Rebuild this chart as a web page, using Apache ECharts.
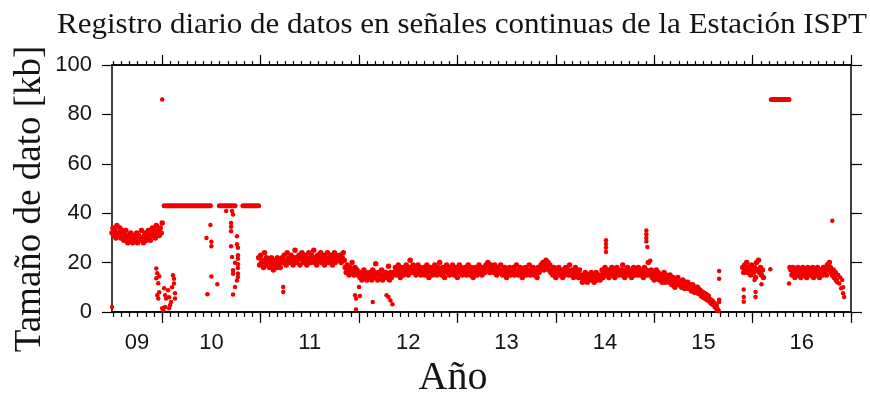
<!DOCTYPE html>
<html>
<head>
<meta charset="utf-8">
<script src="https://cdn.jsdelivr.net/npm/echarts@6/dist/echarts.min.js"></script>
<style>
  html, body { margin: 0; padding: 0; background: #fff; }
  #chart { width: 870px; height: 396px; }
</style>
</head>
<body>
<div id="chart"></div>
<script>
// Daily file size (kb) of the continuous signals recorded at station ISPT.
// Time is in fractional years; each band holds one value every STEP years.
const X_MIN = 2009.49;
const X_MAX = 2017;
const STEP = 0.01;

const yearLabels = ['09', '10', '11', '12', '13', '14', '15', '16'];
const labelYears = [2009, 2010, 2011, 2012, 2013, 2014, 2015, 2016];
const yTicks = [0, 20, 40, 60, 80, 100];

// Mid 2009 – end 2009
const band2009Start = 2009.49;
const band2009 = [32,34,31,33,30,35,32,31,34,30,33,32,29,31,33,30,28,31,29,32,30,28,31,29,30,32,28,31,30,29,33,30,28,31,32,29,30,33,31,29,32,34,31,33,30,35,32,33,31,34,32,36];

// 2011
const band2011Start = 2010.98;
const band2011 = [
  22,19,23,20,21,18,24,20,22,19,
  21,18,20,22,19,17,21,20,18,22,19,21,18,20,
  22,20,23,21,19,24,21,22,20,23,21,19,22,25,20,22,21,23,19,22,
  24,21,20,23,22,19,21,24,22,20,23,21,25,20,22,19,23,21,22,24,
  20,21,23,19,22,21,24,20,22,23,21,19,22,24,20,23,21,22,
  21,23,20,22,24,21
];

// Late 2011 – mid 2015 (ends with the slow decay towards zero)
const band2012Start = 2011.86;
const band2012 = [
  18,16,19,17,15,18,16,20,17,15,18,16,17,15,
  15,14,16,13,15,17,14,16,13,15,14,16,15,13,17,14,16,19.5,15,13,16,14,15,17,13,15,14,16,14,15,18.5,13,16,14,15,16,
  16,18,15,17,19,16,14,18,17,15,
  18,16,19,17,15,18,21,16,17,19,
  16,18,15,17,19,16,18,15,17,16,
  18,15,17,19,16,14,17,18,16,15,
  17,19,16,15,18,16,20,17,15,18,
  16,14,17,19,16,18,15,17,16,19,
  17,15,18,16,14,17,19,16,18,15,
  17,16,18,15,17,19,16,15,18,16,
  14,17,18,16,15,17,19,16,18,15,
  17,18,16,19,17,20,18,16,19,17,
  18,16,19,17,15,18,16,17,19,16,
  15,17,18,16,14,17,16,18,15,17,
  16,18,15,17,19,16,15,17,18,16,
  14,17,16,18,15,17,16,19,15,17,
  16,18,15,17,16,14,18,16,17,19,
  18,20,17,19,21,18,20,17,19,16,
  17,15,18,16,14,17,16,18,15,17,16,14,17,15,18,16,17,15,19,16,15,17,14,16,18,15,16,14,17,15,
  14,12,15,13,16,14,12,15,13,14,16,13,15,12,14,16,13,15,14,13,
  15,17,14,16,18,15,17,16,14,17,16,18,15,17,14,16,18,15,17,16,15,17,19,16,14,17,16,18,15,17,
  16,14,17,18,15,16,17,15,18,16,15,17,16,14,18,16,17,15,20,16,15,
  17,14,16,13,15,17,14,16,13,15,
  15,12,14,16,12,15,13,14,12,15,
  13,11,14,12,10,13,12,14,11,12,
  12,10,13,11,9.5,12,10,12,9.5,11,
  10.5,8.5,11,9,8,10,8.5,10,7.5,9,
  8.5,6.5,8,6,7.5,5.5,7,5,6.5,4.5,
  5,3.5,4.5,3,3.5,2,2.5,1,0.5
];

// Early 2016 burst
const band2016aStart = 2015.90;
const band2016a = [18,16,19,17,20,16,18,17,15,19,17,16,18,14,20,17,21,16,18,15,17,14];

// Second half of 2016
const band2016bStart = 2016.38;
const band2016b = [
  18,17,15,18,16,14,17,16,18,15,17,14,16,18,15,17,16,14,18,16,
  15,17,16,18,14,16,17,15,18,16,14,17,16,15,18,16,17,15,19,17,
  20,18,16,15,17,14,16,13
];

// Isolated days [year, kb]
const scattered = [
  [2009.49, 2], [2010.0, 86],
  [2009.94, 17.6], [2009.95, 15.7], [2009.94, 13.7], [2009.96, 11.6], [2009.95, 6.8], [2009.96, 5.5], [2009.97, 14.5], [2009.97, 8],
  [2010.0, 1.5], [2010.01, 0.7], [2010.02, 9.6], [2010.03, 6.8], [2010.04, 5.5], [2010.03, 2],
  [2010.06, 8.8], [2010.07, 6], [2010.08, 2.7], [2010.07, 1.5], [2010.09, 4],
  [2010.11, 14.9], [2010.12, 13.5], [2010.12, 11.5], [2010.13, 7.6], [2010.13, 5.5], [2010.1, 10],
  [2010.45, 30], [2010.46, 7.2], [2010.49, 35.2], [2010.5, 28.4], [2010.5, 26.6], [2010.5, 14.4], [2010.56, 11.2],
  [2010.65, 40.9], [2010.71, 40.9], [2010.72, 39.5], [2010.70, 36], [2010.70, 34.5], [2010.70, 32.7], [2010.70, 26.6],
  [2010.71, 22.3], [2010.72, 16.9], [2010.72, 15.5], [2010.72, 7.1], [2010.74, 19.9], [2010.74, 10.1],
  [2010.76, 30.7], [2010.76, 27.4], [2010.77, 26], [2010.77, 23], [2010.77, 21.6], [2010.77, 19.3], [2010.77, 17.8],
  [2010.77, 15.6], [2010.77, 14.2], [2010.76, 12.8],
  [2011.23, 10.1], [2011.23, 8.1],
  [2011.96, 6.8], [2011.97, 5.5], [2011.97, 1], [2012.0, 10.1], [2012.01, 6.5], [2012.14, 4],
  [2012.28, 6.8], [2012.3, 6.1], [2012.32, 4.7], [2012.34, 3.1],
  [2014.51, 29], [2014.51, 27.5], [2014.51, 26], [2014.51, 24.3],
  [2014.92, 33], [2014.92, 31.5], [2014.92, 30], [2014.92, 28.5], [2014.93, 26.3], [2014.96, 20.7],
  [2015.66, 16.6], [2015.66, 13.5], [2015.66, 5], [2015.66, 4],
  [2015.91, 9.1], [2015.91, 6.1], [2015.91, 4.1],
  [2016.02, 13], [2016.03, 8.1], [2016.03, 6.1], [2016.09, 11.2], [2016.18, 17.3],
  [2016.37, 11.5], [2016.81, 36.9],
  [2016.86, 12], [2016.87, 15], [2016.88, 11.5], [2016.89, 14], [2016.9, 9.6],
  [2016.91, 13], [2016.92, 7.6], [2016.93, 6.1], [2016.92, 10]
];

// Stretches where every day has the same size: [from, to, kb]
const plateaus = [
  [2010.02, 2010.49, 43],
  [2010.58, 2010.74, 43],
  [2010.82, 2010.98, 43],
  [2016.19, 2016.37, 86]
];

const RED = '#f20000';
const INK = '#141414';

function bandPoints(start, values) {
  return values.map((v, i) => [+(start + i * STEP).toFixed(3), v]);
}

const bands = [].concat(
  bandPoints(band2009Start, band2009),
  bandPoints(band2011Start, band2011),
  bandPoints(band2012Start, band2012),
  bandPoints(band2016aStart, band2016a),
  bandPoints(band2016bStart, band2016b)
);

// Year boundaries carry long ticks, months short ones.
const yearTicks = [];
for (let y = 2010; y <= 2017; y++) yearTicks.push(y);
const monthTicks = [];
for (let m = 0; 2009.5 + m / 12 <= X_MAX + 1e-9; m++) monthTicks.push(2009.5 + m / 12);
// Year annotations sit in the middle of each (visible) year.
const labelPos = labelYears.map(y => (Math.max(y, X_MIN) + y + 1) / 2);

const frameLine = { show: true, onZero: false, lineStyle: { color: '#000', width: 1.5 } };

function xAxisDef(position, ticks, len, withLabels) {
  return {
    type: 'value', position: position, min: X_MIN, max: X_MAX,
    axisLine: frameLine,
    splitLine: { show: false },
    axisTick: { show: true, customValues: ticks, length: len, lineStyle: { color: '#000', width: 1.2 } },
    axisLabel: withLabels ? {
      show: true, customValues: labelPos, margin: 20,
      fontFamily: 'Liberation Sans', fontSize: 22, color: INK,
      formatter: v => yearLabels[labelYears.indexOf(Math.floor(v))]
    } : { show: false }
  };
}

const chart = echarts.init(document.getElementById('chart'));
chart.setOption({
  animation: false,
  backgroundColor: '#fff',
  grid: { left: 112, right: 19, top: 65, bottom: 84, containLabel: false, outerBoundsMode: 'none' },
  xAxis: [
    xAxisDef('bottom', yearTicks, 11, true),
    xAxisDef('bottom', monthTicks, 5, false),
    xAxisDef('top', yearTicks, 10, false),
    xAxisDef('top', monthTicks, 4, false)
  ],
  yAxis: [
    {
      type: 'value', position: 'left', min: 0, max: 100, interval: 20,
      axisLine: frameLine, splitLine: { show: false },
      axisTick: { show: true, length: 10, lineStyle: { color: '#000', width: 1.2 } },
      axisLabel: {
        margin: 20, fontFamily: 'Liberation Sans', fontSize: 22, color: INK,
        formatter: v => (yTicks.indexOf(v) >= 0 ? String(v) : '')
      }
    },
    {
      type: 'value', position: 'right', min: 0, max: 100, interval: 20,
      axisLine: frameLine, splitLine: { show: false },
      axisTick: { show: true, length: 11, lineStyle: { color: '#000', width: 1.2 } },
      axisLabel: { show: false }
    }
  ],
  graphic: [
    {
      type: 'text', x: 57, y: 25, scaleX: 1.07,
      style: { text: 'Registro diario de datos en señales continuas de la Estación ISPT', font: '29px "Liberation Serif"', fill: INK, align: 'left', verticalAlign: 'middle' }
    },
    {
      type: 'text', x: 30, y: 199, rotation: Math.PI / 2,
      style: { text: 'Tamaño de dato [kb]', font: '37px "Liberation Serif"', fill: INK, align: 'center', verticalAlign: 'middle' }
    },
    {
      type: 'text', x: 453, y: 378,
      style: { text: 'Año', font: '40px "Liberation Serif"', fill: INK, align: 'center', verticalAlign: 'middle' }
    }
  ],
  series: [
    {
      type: 'scatter', xAxisIndex: 0, yAxisIndex: 0,
      data: bands, symbol: 'circle', symbolSize: 5.5,
      itemStyle: { color: RED, opacity: 1 }, silent: true
    },
    {
      type: 'scatter', xAxisIndex: 0, yAxisIndex: 0,
      data: scattered, symbol: 'circle', symbolSize: 4.5,
      itemStyle: { color: RED, opacity: 1 }, silent: true
    }
  ].concat(plateaus.map(p => ({
    type: 'line', xAxisIndex: 0, yAxisIndex: 0,
    data: [[p[0], p[2]], [p[1], p[2]]],
    showSymbol: false, silent: true,
    lineStyle: { color: RED, width: 5, cap: 'round' }
  })))
});
</script>
</body>
</html>
